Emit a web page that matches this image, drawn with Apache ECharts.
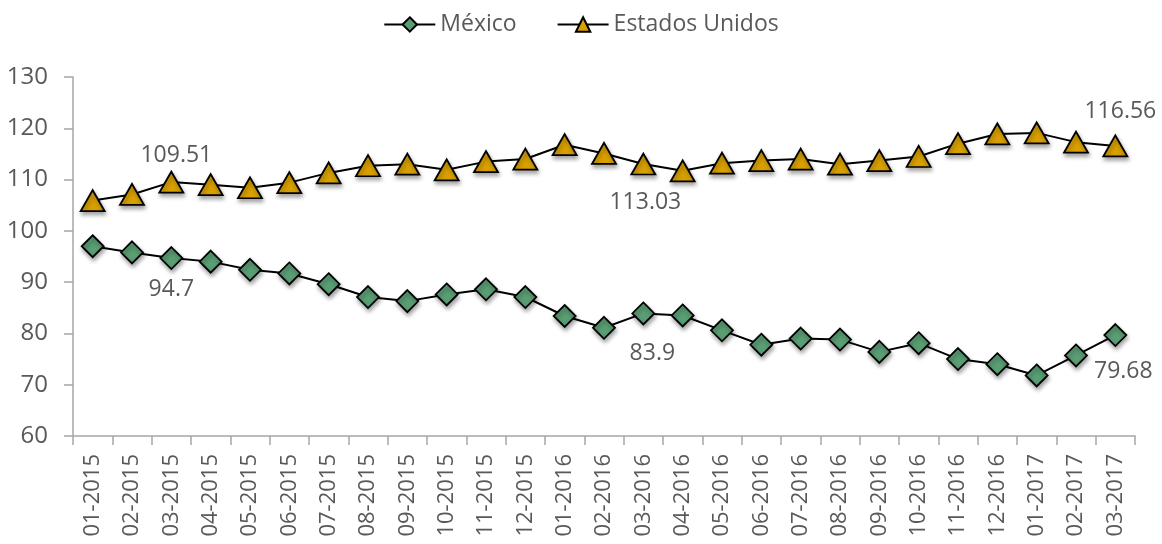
<!DOCTYPE html>
<html>
<head>
<meta charset="utf-8">
<script src="https://cdn.jsdelivr.net/npm/echarts@6/dist/echarts.min.js"></script>
<style>
html,body{margin:0;padding:0;background:#fff;}
#chart{width:1162px;height:544px;}
</style>
</head>
<body>
<div id="chart"></div>
<script>
const categories = ["01-2015","02-2015","03-2015","04-2015","05-2015","06-2015","07-2015","08-2015","09-2015","10-2015","11-2015","12-2015",
  "01-2016","02-2016","03-2016","04-2016","05-2016","06-2016","07-2016","08-2016","09-2016","10-2016","11-2016","12-2016",
  "01-2017","02-2017","03-2017"];
const mexico = [97.0,95.8,94.7,94.0,92.4,91.7,89.6,87.1,86.3,87.6,88.6,87.1,
  83.4,81.1,83.9,83.5,80.6,77.8,79.0,78.8,76.4,78.1,75.0,74.0,
  71.8,75.7,79.68];
const usa = [105.9,107.1,109.51,109.0,108.4,109.4,111.3,112.7,113.0,111.9,113.5,114.0,
  116.8,115.1,113.03,111.7,113.2,113.7,114.0,113.0,113.7,114.5,117.0,118.9,
  119.1,117.3,116.56];
const yTicks = {min:60, max:130, interval:10};

const fontFamily = "'Open Sans', 'Noto Sans', sans-serif";
const textColor = '#595959';

// label settings (index -> style)
const mxLabels = {2:{position:'bottom',distance:8,offset:[0,0]},14:{position:'bottom',distance:17,offset:[9,0]},26:{position:'bottom',distance:13,offset:[8,0]}};
const usLabels = {2:{position:'top',distance:4,offset:[5,0]},14:{position:'bottom',distance:16,offset:[2,0]},26:{position:'top',distance:12,offset:[5,0]}};

function buildData(values, labels){
  return values.map((v,i)=>{
    if(labels[i]){
      return {value:v,label:Object.assign({show:true,color:textColor,fontSize:23,fontFamily:fontFamily,formatter:String(v)},labels[i])};
    }
    return v;
  });
}

const chart = echarts.init(document.getElementById('chart'), null, {renderer:'canvas'});
const markerShadow = {shadowBlur:4, shadowColor:'rgba(0,0,0,0.35)', shadowOffsetX:1, shadowOffsetY:3};
chart.setOption({
  animation:false,
  backgroundColor:'#ffffff',
  legend:{
    top:8,
    left:'center',
    itemWidth:51,
    itemHeight:18,
    itemGap:40,
    textStyle:{color:textColor,fontSize:23,fontFamily:fontFamily},
    data:['México','Estados Unidos']
  },
  grid:{left:73,right:27,top:77,bottom:108,containLabel:false},
  xAxis:{
    type:'category',
    data:categories,
    boundaryGap:true,
    axisLine:{lineStyle:{color:'#a6a6a6',width:1.5}},
    axisTick:{show:true,alignWithLabel:false,length:9,lineStyle:{color:'#a6a6a6',width:1.5}},
    axisLabel:{rotate:90,interval:0,margin:18,color:textColor,fontSize:22,fontFamily:fontFamily},
    splitLine:{show:false}
  },
  yAxis:{
    type:'value',
    min:yTicks.min,max:yTicks.max,interval:yTicks.interval,
    axisLine:{show:true,lineStyle:{color:'#a6a6a6',width:1.5}},
    axisTick:{show:true,length:9,lineStyle:{color:'#a6a6a6',width:1.5}},
    axisLabel:{margin:25,color:textColor,fontSize:24,fontFamily:fontFamily},
    splitLine:{show:false}
  },
  series:[
    {
      name:'México',
      type:'line',
      data:buildData(mexico,mxLabels),
      symbol:'diamond',
      symbolSize:[22,22],
      lineStyle:{color:'#000',width:2},
      itemStyle:Object.assign({color:'#5a9e74',borderColor:'#000',borderWidth:1.8},markerShadow),
      z:3
    },
    {
      name:'Estados Unidos',
      type:'line',
      data:buildData(usa,usLabels),
      symbol:'triangle',
      symbolSize:[24,21],
      lineStyle:{color:'#000',width:2},
      itemStyle:Object.assign({color:'#d9a000',borderColor:'#000',borderWidth:1.8},markerShadow),
      z:3
    }
  ]
});
</script>
</body>
</html>
